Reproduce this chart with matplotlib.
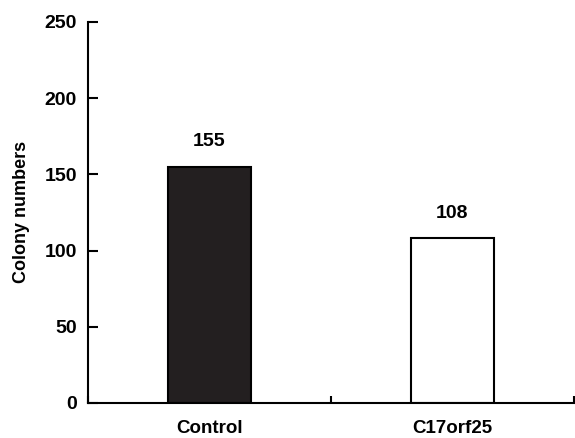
import matplotlib
matplotlib.use('Agg')
import matplotlib.pyplot as plt

categories = ['Control', 'C17orf25']
colony_counts = [155, 108]
bar_colors = ['#231f20', 'white']
y_ticks = [0, 50, 100, 150, 200, 250]

plt.rcParams['font.family'] = ['Liberation Sans', 'DejaVu Sans']
plt.rcParams['font.weight'] = 'bold'
plt.rcParams['axes.labelweight'] = 'bold'

fig = plt.figure(figsize=(5.75, 4.38), dpi=100)
ax = fig.add_axes([0.153, 0.080, 0.845, 0.870])

centers = [i + 0.5 for i in range(len(categories))]
bars = ax.bar(centers, colony_counts, width=0.34, color=bar_colors,
              edgecolor='black', linewidth=1.5)
for b, v in zip(bars, colony_counts):
    ax.annotate(str(v), (b.get_x() + b.get_width() / 2, v),
                xytext=(0, 12), textcoords='offset points',
                ha='center', va='bottom', fontsize=14)

ax.set_xlim(0, len(categories))
ax.set_ylim(0, 250)
ax.set_yticks(y_ticks)
ax.set_xticks(range(len(categories) + 1))
ax.set_xticklabels([])
ax.set_xticks(centers, minor=True)
ax.set_xticklabels(categories, minor=True, fontsize=13.5)
ax.tick_params(axis='x', which='minor', length=0, pad=12)
ax.tick_params(axis='x', which='major', direction='in', length=5, width=1.5)
ax.tick_params(axis='y', direction='in', length=7, width=1.5, labelsize=14, pad=8)

ax.spines['top'].set_visible(False)
ax.spines['right'].set_visible(False)
ax.spines['left'].set_linewidth(1.5)
ax.spines['bottom'].set_linewidth(1.5)

ax.set_ylabel('Colony numbers', fontsize=13, labelpad=10)

fig.savefig('out.png', dpi=100)
